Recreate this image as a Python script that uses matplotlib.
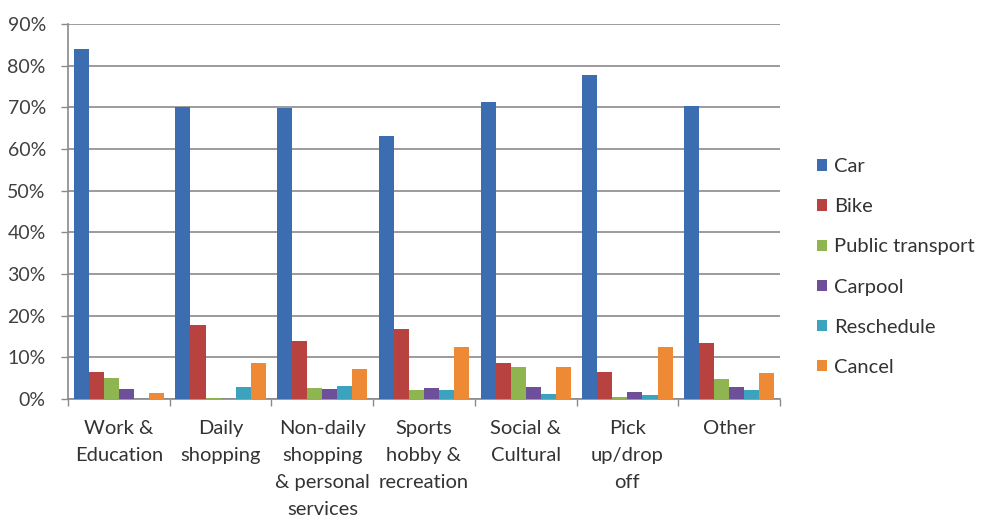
import matplotlib
matplotlib.use("Agg")
import matplotlib.pyplot as plt
import numpy as np
from matplotlib.ticker import FixedLocator, FuncFormatter

categories = [
    "Work &\nEducation",
    "Daily\nshopping",
    "Non-daily\nshopping\n& personal\nservices",
    "Sports\nhobby &\nrecreation",
    "Social &\nCultural",
    "Pick\nup/drop\noff",
    "Other",
]
series_names = ["Car", "Bike", "Public transport", "Carpool", "Reschedule", "Cancel"]
car = [84.0, 70.0, 69.8, 63.2, 71.2, 77.8, 70.4]
bike = [6.4, 17.8, 14.0, 16.9, 8.6, 6.4, 13.5]
public_transport = [5.0, 0.2, 2.7, 2.2, 7.6, 0.4, 4.8]
carpool = [2.5, 0.0, 2.4, 2.6, 2.9, 1.8, 2.9]
reschedule = [0.0, 2.9, 3.2, 2.2, 1.1, 0.9, 2.2]
cancel = [1.4, 8.7, 7.2, 12.6, 7.6, 12.6, 6.3]
y_ticks = [0, 10, 20, 30, 40, 50, 60, 70, 80, 90]

colors = ["#3D6DB1", "#B8423F", "#8FB551", "#6E4F99", "#3BA3BE", "#EE8A35"]
series = [car, bike, public_transport, carpool, reschedule, cancel]

plt.rcParams["font.family"] = ["Lato", "DejaVu Sans"]

fig = plt.figure(figsize=(9.81, 5.17), dpi=100)
ax = fig.add_axes([68 / 981, 1 - 399 / 517, (780 - 68) / 981, (399 - 24) / 517])

n = len(series)
bar_w = 0.148
x = np.arange(len(categories))
offset0 = -bar_w * n / 2 + bar_w / 2
for i, (name, vals, c) in enumerate(zip(series_names, series, colors)):
    ax.bar(x + offset0 + i * bar_w, vals, width=bar_w, color=c, label=name,
           zorder=3, linewidth=0)

ax.set_xlim(-0.5, len(categories) - 0.5)
ax.set_ylim(0, 90)
ax.yaxis.set_major_locator(FixedLocator(y_ticks))
ax.yaxis.set_major_formatter(FuncFormatter(lambda v, p: f"{int(v)}%"))
ax.grid(axis="y", color="#8A8A8A", linewidth=1.2, zorder=0)

ax.set_xticks(x)
ax.set_xticklabels(categories, fontsize=14.5, color="#333333", linespacing=1.72)
ax.tick_params(axis="x", length=0, pad=15)
ax.set_xticks(np.arange(len(categories) + 1) - 0.5, minor=True)
ax.tick_params(axis="x", which="minor", length=5, color="#8A8A8A", width=1)
ax.tick_params(axis="y", length=5, color="#8A8A8A", width=1, labelsize=14,
               labelcolor="#404040", pad=11)

for side in ["top", "right"]:
    ax.spines[side].set_visible(False)
for side in ["left", "bottom"]:
    ax.spines[side].set_color("#8A8A8A")
    ax.spines[side].set_linewidth(1.2)

handles, labels = ax.get_legend_handles_labels()
leg = fig.legend(handles, labels, loc="center left", bbox_to_anchor=(817 / 981, 1 - 267 / 517),
                 frameon=False, fontsize=14.5, handlelength=0.5, handleheight=0.5,
                 handletextpad=0.35, labelspacing=1.15, borderaxespad=0, borderpad=0)
for t in leg.get_texts():
    t.set_color("#333333")

fig.savefig("out.png", dpi=100)
